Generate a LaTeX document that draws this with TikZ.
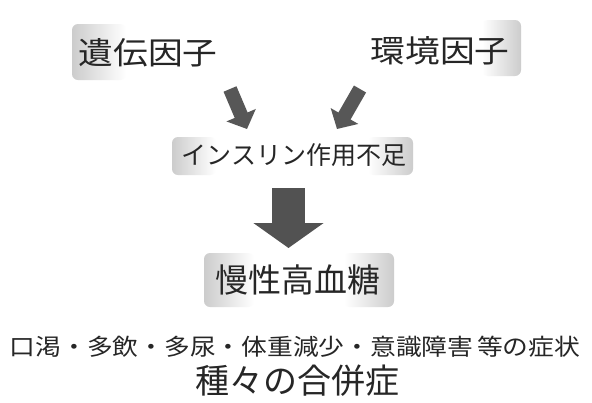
\documentclass[tikz,border=0pt]{standalone}
\usepackage{fontspec}
\newfontfamily\cjk{Noto Sans CJK JP}
\newfontfamily\cjkwide{Noto Sans CJK JP}[FakeStretch=1.12]
\usetikzlibrary{arrows.meta}
\tikzset{
  lbl/.style={inner sep=0pt, font=\cjk, text=black!85},
  patchL/.style={left color=black!20, right color=white, rounded corners=6pt},
  patchR/.style={left color=white, right color=black!20, rounded corners=6pt},
  diagarrow/.style={line width=14pt, black!66, line cap=butt, -{Triangle[length=15pt,width=31pt]}},
  bigarrow/.style={line width=33pt, black!68, line cap=butt, -{Triangle[length=25pt,width=69pt]}},
}
\begin{document}
\begin{tikzpicture}[x=1pt,y=-1pt]
\useasboundingbox[fill=white] (0,0) rectangle (592,402);
% shaded patches behind labels
\shade[patchL] (72,24) rectangle (126,80);
\shade[patchR] (482,20) rectangle (521,76);
\shade[patchL] (172,137) rectangle (216,175);
\shade[patchR] (368,137) rectangle (413,175);
\shade[patchL] (204,253) rectangle (254,307);
\shade[patchR] (344,253) rectangle (394,307);
% labels
\node[lbl, font=\cjkwide\fontsize{31}{31}\selectfont] (gen) at (148,53) {遺伝因子};
\node[lbl, font=\cjkwide\fontsize{31}{31}\selectfont] (env) at (440,51) {環境因子};
\node[lbl, font=\cjk\fontsize{25}{25}\selectfont] (ins) at (294,155) {インスリン作用不足};
\node[lbl, font=\cjk\fontsize{33}{33}\selectfont] (hyp) at (298,280) {慢性高血糖};
\node[lbl, font=\cjkwide\fontsize{23}{23}\selectfont] (sym) at (295,347) {口渇・多飲・多尿・体重減少・意識障害\,等の症状};
\node[lbl, font=\cjk\fontsize{34}{34}\selectfont] (cmp) at (297,381) {種々の合併症};
% connector end points
\coordinate (a1s) at (230,89);
\coordinate (a1e) at (247,129);
\coordinate (a2s) at (360,89);
\coordinate (a2e) at (337,129);
\coordinate (a3s) at (288.5,188);
\coordinate (a3e) at (288.5,248);
% arrows
\draw[diagarrow] (a1s) -- (a1e);
\draw[diagarrow] (a2s) -- (a2e);
\draw[bigarrow] (a3s) -- (a3e);
\end{tikzpicture}
\end{document}
